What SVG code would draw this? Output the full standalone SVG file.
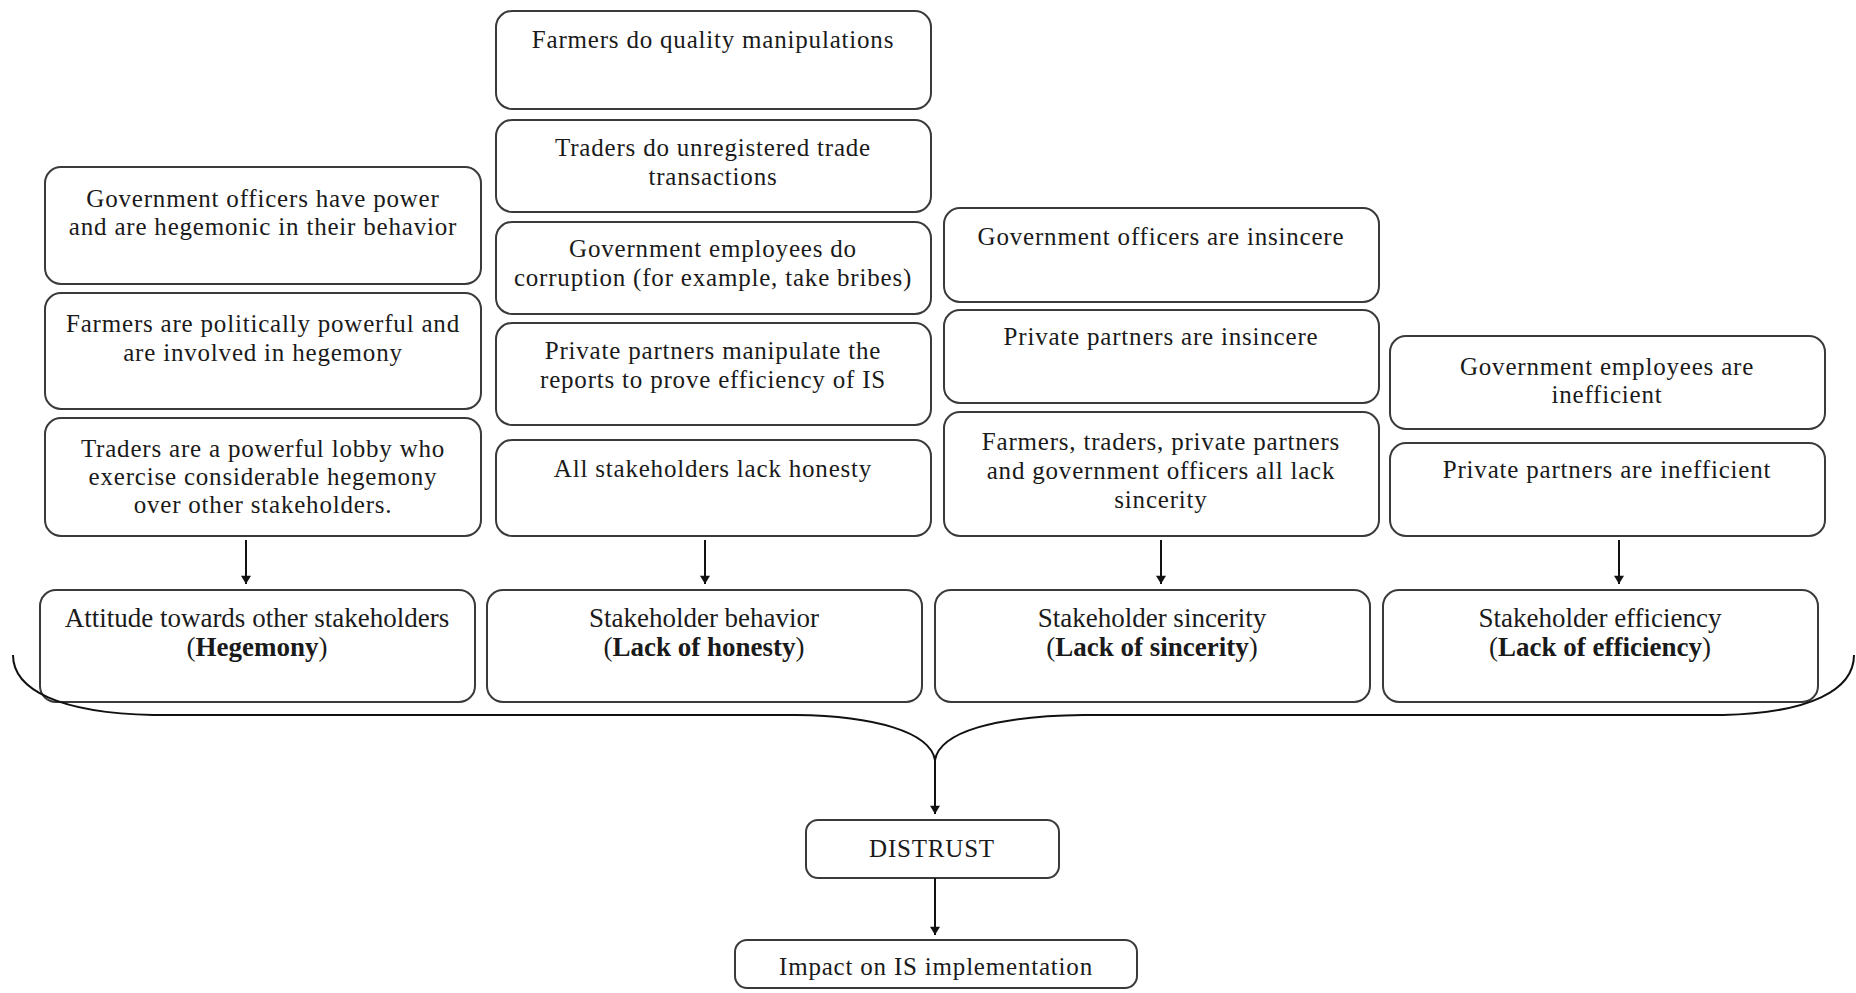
<svg xmlns="http://www.w3.org/2000/svg" width="1856" height="993" viewBox="0 0 1856 993">
<defs>
<style>
.box{fill:#fff;stroke:#3a3a3a;stroke-width:2}
.t{font-family:"Liberation Serif","Times New Roman",serif;font-size:25px;letter-spacing:0.8px;fill:#1a1a1a;text-anchor:middle}
.b{font-family:"Liberation Serif","Times New Roman",serif;font-size:27px;fill:#1a1a1a;text-anchor:middle}
.bold{font-weight:bold}
.con{fill:none;stroke:#111;stroke-width:2}
</style>
<marker id="ah" viewBox="0 0 10 12" refX="10" refY="6" markerWidth="13" markerHeight="10" orient="auto" markerUnits="userSpaceOnUse">
<path d="M0,0 L10,6 L0,12 z" fill="#111"/>
</marker>
</defs>
<rect width="1856" height="993" fill="#fff"/>

<g id="c1a"><rect class="box" x="45" y="167" width="436" height="117" rx="16"/>
<text class="t" x="263" y="207">Government officers have power</text>
<text class="t" x="263" y="235">and are hegemonic in their behavior</text></g>
<g id="c1b"><rect class="box" x="45" y="293" width="436" height="116" rx="16"/>
<text class="t" x="263" y="332">Farmers are politically powerful and</text>
<text class="t" x="263" y="361">are involved in hegemony</text></g>
<g id="c1c"><rect class="box" x="45" y="418" width="436" height="118" rx="16"/>
<text class="t" x="263" y="457">Traders are a powerful lobby who</text>
<text class="t" x="263" y="485">exercise considerable hegemony</text>
<text class="t" x="263" y="513">over other stakeholders.</text></g>

<g id="c2a"><rect class="box" x="496" y="11" width="435" height="98" rx="16"/>
<text class="t" x="713" y="48">Farmers do quality manipulations</text></g>
<g id="c2b"><rect class="box" x="496" y="120" width="435" height="92" rx="16"/>
<text class="t" x="713" y="156">Traders do unregistered trade</text>
<text class="t" x="713" y="185">transactions</text></g>
<g id="c2c"><rect class="box" x="496" y="222" width="435" height="92" rx="16"/>
<text class="t" x="713" y="257">Government employees do</text>
<text class="t" x="713" y="286">corruption (for example, take bribes)</text></g>
<g id="c2d"><rect class="box" x="496" y="323" width="435" height="102" rx="16"/>
<text class="t" x="713" y="359">Private partners manipulate the</text>
<text class="t" x="713" y="388">reports to prove efficiency of IS</text></g>
<g id="c2e"><rect class="box" x="496" y="440" width="435" height="96" rx="16"/>
<text class="t" x="713" y="477">All stakeholders lack honesty</text></g>

<g id="c3a"><rect class="box" x="944" y="208" width="435" height="94" rx="16"/>
<text class="t" x="1161" y="245">Government officers are insincere</text></g>
<g id="c3b"><rect class="box" x="944" y="310" width="435" height="93" rx="16"/>
<text class="t" x="1161" y="345">Private partners are insincere</text></g>
<g id="c3c"><rect class="box" x="944" y="412" width="435" height="124" rx="16"/>
<text class="t" x="1161" y="450">Farmers, traders, private partners</text>
<text class="t" x="1161" y="479">and government officers all lack</text>
<text class="t" x="1161" y="508">sincerity</text></g>

<g id="c4a"><rect class="box" x="1390" y="336" width="435" height="93" rx="16"/>
<text class="t" x="1607" y="375">Government employees are</text>
<text class="t" x="1607" y="403">inefficient</text></g>
<g id="c4b"><rect class="box" x="1390" y="443" width="435" height="93" rx="16"/>
<text class="t" x="1607" y="478">Private partners are inefficient</text></g>

<g id="k1"><rect class="box" x="40" y="590" width="435" height="112" rx="16"/>
<text class="b" x="257" y="627">Attitude towards other stakeholders</text>
<text class="b" x="257" y="656">(<tspan class="bold">Hegemony</tspan>)</text></g>
<g id="k2"><rect class="box" x="487" y="590" width="435" height="112" rx="16"/>
<text class="b" x="704" y="627">Stakeholder behavior</text>
<text class="b" x="704" y="656">(<tspan class="bold">Lack of honesty</tspan>)</text></g>
<g id="k3"><rect class="box" x="935" y="590" width="435" height="112" rx="16"/>
<text class="b" x="1152" y="627">Stakeholder sincerity</text>
<text class="b" x="1152" y="656">(<tspan class="bold">Lack of sincerity</tspan>)</text></g>
<g id="k4"><rect class="box" x="1383" y="590" width="435" height="112" rx="16"/>
<text class="b" x="1600" y="627">Stakeholder efficiency</text>
<text class="b" x="1600" y="656">(<tspan class="bold">Lack of efficiency</tspan>)</text></g>

<g id="distrust"><rect class="box" x="806" y="820" width="253" height="58" rx="12"/>
<text class="t" x="932" y="857">DISTRUST</text></g>
<g id="impact"><rect class="box" x="735" y="940" width="402" height="48" rx="12"/>
<text class="t" x="936" y="975">Impact on IS implementation</text></g>

<g id="connectors">
<line class="con" x1="246" y1="540" x2="246" y2="584" marker-end="url(#ah)"/>
<line class="con" x1="705" y1="540" x2="705" y2="584" marker-end="url(#ah)"/>
<line class="con" x1="1161" y1="540" x2="1161" y2="584" marker-end="url(#ah)"/>
<line class="con" x1="1619" y1="540" x2="1619" y2="584" marker-end="url(#ah)"/>
<path class="con" d="M13,655 C13,690 60,713 153,715 L796,715 C875,716 930,732 935,760 C940,732 995,716 1083,715 L1723,715 C1810,713 1854,690 1854,655"/>
<line class="con" x1="935" y1="760" x2="935" y2="814" marker-end="url(#ah)"/>
<line class="con" x1="935" y1="878" x2="935" y2="935" marker-end="url(#ah)"/>
</g>
</svg>
